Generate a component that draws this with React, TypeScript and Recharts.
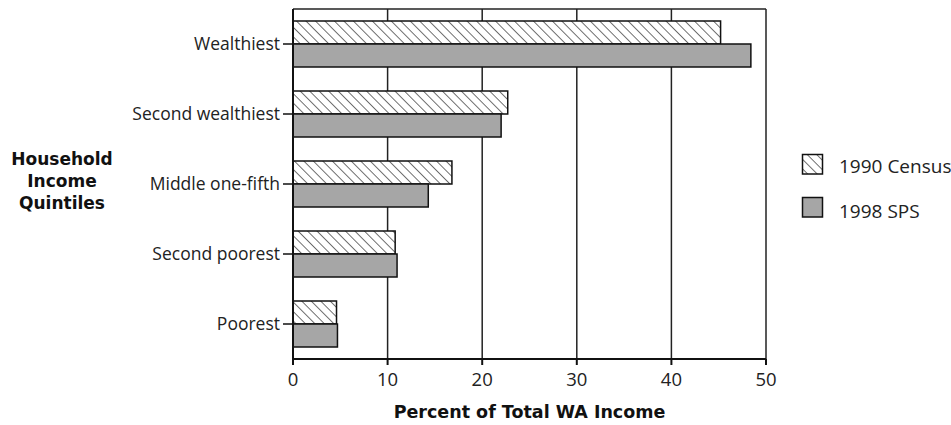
import React from "react";
import {
  BarChart,
  Bar,
  XAxis,
  YAxis,
  CartesianGrid,
} from "recharts";

const quintiles = [
  "Wealthiest",
  "Second wealthiest",
  "Middle one-fifth",
  "Second poorest",
  "Poorest",
];
const census1990 = [45.2, 22.7, 16.8, 10.8, 4.6];
const sps1998 = [48.4, 22.0, 14.3, 11.0, 4.7];
const xTicks = [0, 10, 20, 30, 40, 50];

const data = quintiles.map((q, i) => ({
  name: q,
  census: census1990[i],
  sps: sps1998[i],
}));

const W = 951;
const H = 425;
const labelFont = "'Open Sans', Lato, sans-serif";
const titleFont = "'DejaVu Sans', Arial, sans-serif";

export default function App() {
  return (
    <div style={{ position: "relative", width: W, height: H, background: "#fff" }}>
      <style>{`body{margin:0}`}</style>
      <BarChart
        width={W}
        height={H}
        data={data}
        layout="vertical"
        margin={{ top: 9, right: 185, bottom: 0, left: 0 }}
        barSize={23}
        barGap={0}
        barCategoryGap="17%"
      >
        <defs>
          <pattern
            id="hatch"
            width="6.7"
            height="6.7"
            patternUnits="userSpaceOnUse"
            patternTransform="rotate(-45)"
          >
            <rect width="6.7" height="6.7" fill="#fff" />
            <line x1="0" y1="0" x2="0" y2="6.7" stroke="#111" strokeWidth={1.2} />
          </pattern>
        </defs>
        <CartesianGrid
          horizontal={true}
          vertical={true}
          horizontalPoints={[9]}
          stroke="#222"
          strokeWidth={1.5}
        />
        <XAxis
          type="number"
          domain={[0, 50]}
          ticks={xTicks}
          height={66}
          axisLine={{ stroke: "#111", strokeWidth: 2 }}
          tickLine={{ stroke: "#111", strokeWidth: 2 }}
          tickSize={6}
          tickMargin={8}
          tick={{ fill: "#222", fontSize: 18.5, fontFamily: labelFont }}
          label={{
            value: "Percent of Total WA Income",
            position: "insideBottom",
            offset: 7,
            fill: "#111",
            fontSize: 17.5,
            fontWeight: "bold",
            fontFamily: titleFont,
          }}
        />
        <YAxis
          type="category"
          dataKey="name"
          width={293}
          axisLine={{ stroke: "#111", strokeWidth: 2 }}
          tickLine={{ stroke: "#111", strokeWidth: 1.5 }}
          tickSize={10}
          tickMargin={3}
          tick={{ fill: "#222", fontSize: 17.5, fontFamily: labelFont }}
        />
        <Bar
          dataKey="census"
          name="1990 Census"
          fill="url(#hatch)"
          stroke="#111"
          strokeWidth={1.5}
          isAnimationActive={false}
        />
        <Bar
          dataKey="sps"
          name="1998 SPS"
          fill="#a6a6a6"
          stroke="#111"
          strokeWidth={1.5}
          isAnimationActive={false}
        />
      </BarChart>
      <div
        style={{
          position: "absolute",
          left: 0,
          top: 148,
          width: 124,
          textAlign: "center",
          fontFamily: titleFont,
          fontWeight: "bold",
          fontSize: 17,
          lineHeight: "22px",
          color: "#111",
        }}
      >
        Household
        <br />
        Income
        <br />
        Quintiles
      </div>
      <svg
        style={{ position: "absolute", left: 800, top: 148 }}
        width={151}
        height={80}
      >
        <rect x={2.5} y={6.5} width={20} height={19.5} fill="url(#hatch)" stroke="#111" strokeWidth={1.5} />
        <text x={39} y={24.5} fontSize={19} fontFamily={labelFont} fill="#222">
          1990 Census
        </text>
        <rect x={2.5} y={49.5} width={20} height={19.5} fill="#a6a6a6" stroke="#111" strokeWidth={1.5} />
        <text x={39} y={70} fontSize={19} fontFamily={labelFont} fill="#222">
          1998 SPS
        </text>
      </svg>
    </div>
  );
}
